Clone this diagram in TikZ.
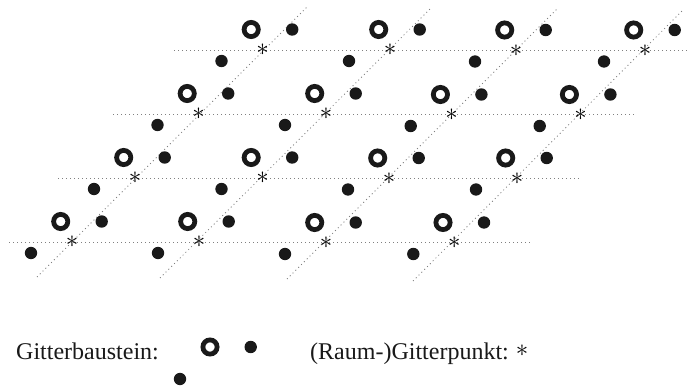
\documentclass[tikz,border=0pt]{standalone}
\usepackage{fontspec}
\setmainfont{Liberation Serif}
\tikzset{
	gitterring/.style={circle,draw=black!90,line width=4.8pt,minimum size=14.2pt,inner sep=0pt},
	gitterdot/.style={circle,fill=black!90,minimum size=12.4pt,inner sep=0pt},
	gitterstar/.style={inner sep=0pt,text=black,font=\fontsize{32}{32}\selectfont},
	gitterline/.style={line width=.8pt,black!50,dash pattern=on 1pt off 3pt},
	legende/.style={inner sep=0pt,anchor=base west,text=black!90,font=\fontsize{24}{26}\selectfont}
}
\begin{document}
\begin{tikzpicture}[x=1pt,y=-1pt]
		\useasboundingbox (0,0) rectangle (688,390);
		% horizontal lines
		\foreach \n/\xa/\xb/\y in {1/174/688/50.5,2/113/634/114.5,3/58/580/178.5,4/9/531/242.5}{
			\coordinate (ha\n) at (\xa,\y);
			\coordinate (hb\n) at (\xb,\y);
			\draw[gitterline] (ha\n)--(hb\n);
		}
		% oblique lines
		\foreach \n/\xa/\ya/\xb/\yb in {1/37/277/307/7,2/160/278/430/9,3/287/279/557/9,4/413/281/682/11}{
			\coordinate (da\n) at (\xa,\ya);
			\coordinate (db\n) at (\xb,\yb);
			\draw[gitterline] (da\n)--(db\n);
		}
		% lattice points with their motif
		\foreach \n/\x/\y in {a/262.5/50,b/390/50,c/516/50.5,d/645/50.5,
			e/198.5/114,f/326/114,g/451.7/115,h/580.7/115,
			i/135/178,j/262.5/178,k/389/178.5,l/517/178.5,
			m/72/242,n/199/242,o/326/243,p/454.3/243}{
			\node[gitterring] (r\n) at (\x-11.3,\y-20.5) {};
			\node[gitterdot] (s\n) at (\x+29.7,\y-20.5) {};
			\node[gitterdot] (t\n) at (\x-41,\y+11) {};
			\node[gitterstar] (p\n) at (\x,\y) {$\ast$};
		}
		% legend
		\node[legende] (bau) at (16,359) {Gitterbaustein:};
		\node[gitterring] (lr) at (210,347) {};
		\node[gitterdot] (ls) at (250.7,347) {};
		\node[gitterdot] (lt) at (180,379) {};
		\node[legende] (raum) at (310,359) {(Raum-)Gitterpunkt:};
		\node[gitterstar] (lp) at (522,351) {$\ast$};
		\end{tikzpicture}
\end{document}
